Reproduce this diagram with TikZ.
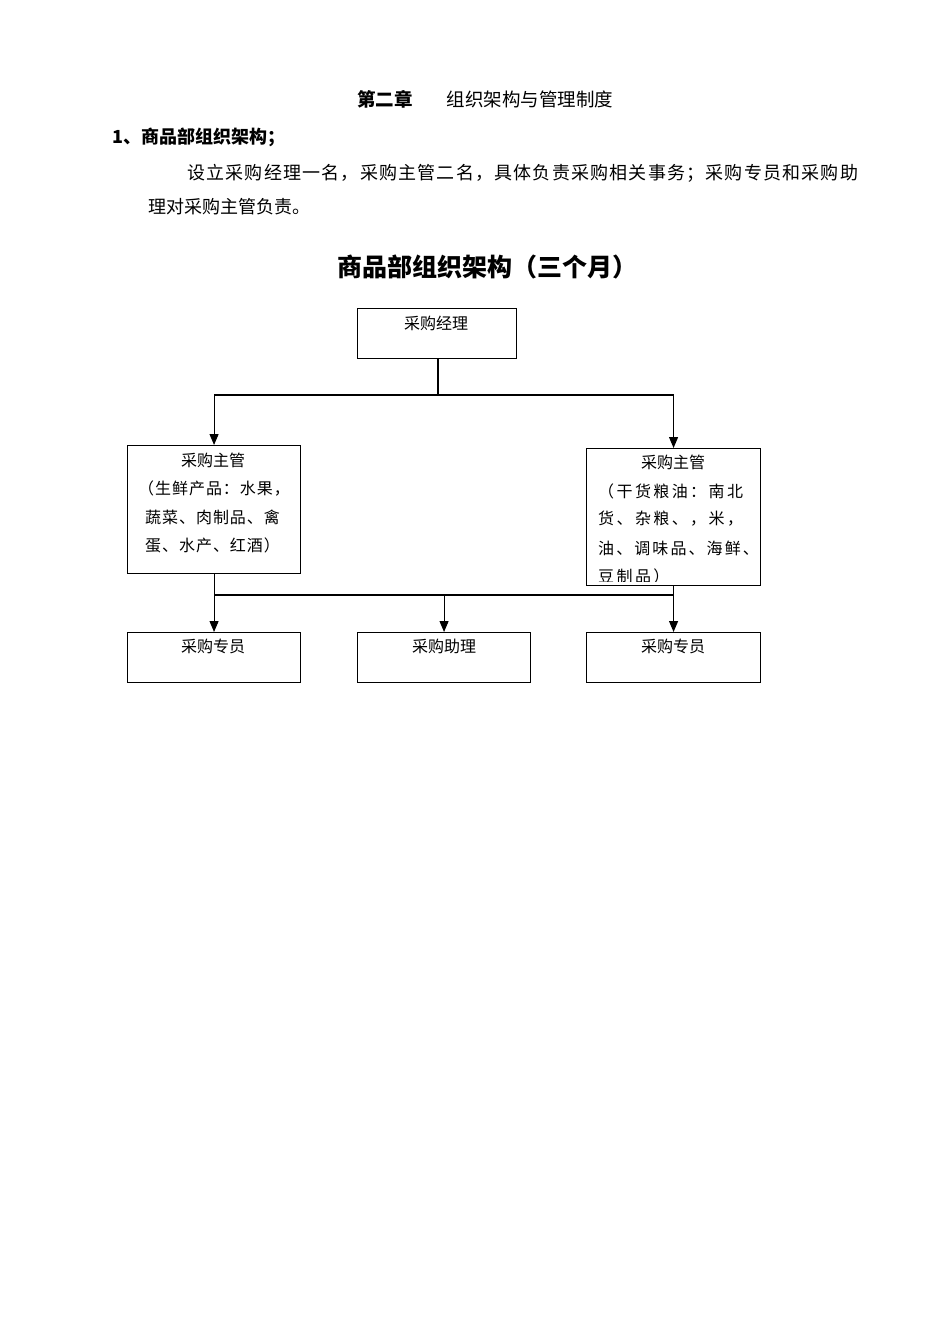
\documentclass[tikz,border=0pt]{standalone}
\usepackage{fontspec}
\usetikzlibrary{arrows.meta}
\newfontfamily\cjk{Noto Sans CJK SC}
\def\spreadchars#1{\spreadA#1\relax}
\def\spreadA#1{\ifx#1\relax\else#1\hfill\expandafter\spreadA\fi}
\begin{document}
\begin{tikzpicture}[x=1pt,y=-1pt,
  box/.style={draw,line width=1.1pt,rectangle,inner sep=0pt,anchor=north west},
  conn/.style={line width=1.1pt},
  arr/.style={conn,-{Triangle[length=11pt,width=9pt]}},
  txt/.style={inner sep=0pt,font=\cjk\fontsize{16}{18}\selectfont},
  ltxt/.style={txt,anchor=west},
  body/.style={inner sep=0pt,anchor=west,font=\cjk\fontsize{18}{20}\selectfont},
]
\useasboundingbox (0,0) rectangle (950,1344);

% page text
\node[inner sep=0pt,font=\cjk\bfseries\fontsize{18.5}{20}\selectfont] (chap) at (385,99) {第二章};
\node[inner sep=0pt,font=\cjk\fontsize{18.5}{20}\selectfont] (chapt) at (530,99) {组织架构与管理制度};
\node[body,font=\cjk\bfseries\fontsize{18}{20}\selectfont] (sec) at (112,137) {1、商品部组织架构；};
\node[body] (p1) at (187,173) {\hbox to 671pt{\spreadchars{设立采购经理一名，采购主管二名，具体负责采购相关事务；采购专员和采购助}\unskip}};
\node[body] (p2) at (148,207) {理对采购主管负责。};
\node[inner sep=0pt,font=\cjk\bfseries\fontsize{25}{28}\selectfont] (title) at (487,267) {商品部组织架构（三个月）};

% boxes
\node[box,minimum width=159pt,minimum height=50pt] (mgr) at (357,308) {};
\node[box,minimum width=173pt,minimum height=128pt] (supL) at (127,445) {};
\node[box,minimum width=174pt,minimum height=137pt] (supR) at (586,448) {};
\node[box,minimum width=173pt,minimum height=50pt] (spL) at (127,632) {};
\node[box,minimum width=173pt,minimum height=50pt] (asst) at (357,632) {};
\node[box,minimum width=174pt,minimum height=50pt] (spR) at (586,632) {};

% box texts
\node[txt] (tmgr) at (436,323) {采购经理};
\node[txt] (tL0) at (213,460) {采购主管};
\node[ltxt] (tL1) at (138,489) {\addfontfeature{LetterSpace=6}（生鲜产品：水果，};
\node[ltxt] (tL2) at (145,517) {\addfontfeature{LetterSpace=6}蔬菜、肉制品、禽};
\node[ltxt] (tL3) at (145,545) {\addfontfeature{LetterSpace=6}蛋、水产、红酒）};
\node[txt] (tR0) at (673,462) {采购主管};
\node[ltxt] (tR1) at (598,491) {\addfontfeature{LetterSpace=15}（干货粮油：南北};
\node[ltxt] (tR2) at (598,519) {\addfontfeature{LetterSpace=15}货、杂粮、，米，};
\node[ltxt] (tR3) at (598,548) {\addfontfeature{LetterSpace=13}油、调味品、海鲜、};
\begin{scope}
\clip (586,560) rectangle (760,581);
\node[ltxt] (tR4) at (598,576) {\addfontfeature{LetterSpace=15}豆制品）};
\end{scope}
\node[txt] (tspL) at (213,646) {采购专员};
\node[txt] (tasst) at (444,646) {采购助理};
\node[txt] (tspR) at (673,646) {采购专员};

% connectors
\coordinate (j1) at (438,395);
\draw[conn] (mgr.south -| j1) -- (j1);
\draw[arr] (j1) -| (supL.north);
\draw[arr] (j1) -| (supR.north);
\coordinate (j2) at (supL.south |- 0,595);
\coordinate (j3) at (supR.south |- 0,595);
\draw[arr] (supL.south) -- (spL.north);
\draw[conn] (j2) -- (j3);
\draw[arr] (asst.north |- j2) -- (asst.north);
\draw[arr] (supR.south) -- (spR.north);
\end{tikzpicture}
\end{document}
